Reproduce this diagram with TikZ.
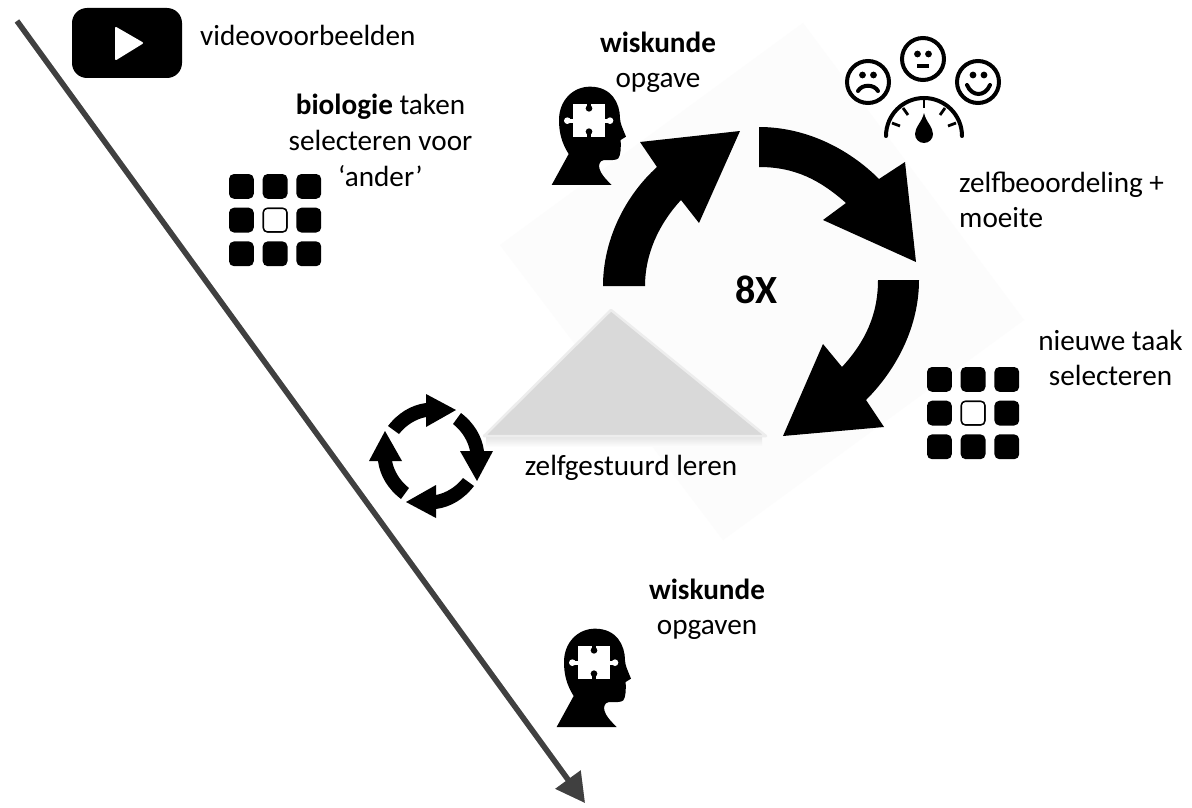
\documentclass[tikz,border=0pt]{standalone}
\usepackage{fontspec}
\setmainfont{Carlito}
\usetikzlibrary{arrows.meta}
\definecolor{tline}{HTML}{404040}
\definecolor{tshadow}{HTML}{C4C4C4}
\definecolor{faint}{HTML}{FCFCFC}
\definecolor{tri}{HTML}{D9D9D9}
\definecolor{triedge}{HTML}{EDEDED}
\tikzset{
  label/.style={font=\fontsize{29.2}{35}\selectfont,align=center,inner sep=0pt,text=black},
  bigtext/.style={font=\fontsize{40}{44}\selectfont\bfseries,inner sep=0pt},
  bigarrow/.style={fill=black,draw=none},
  faceline/.style={draw=black,line width=4pt,line cap=round},
  pics/taskgrid/.style={code={
    \foreach \i in {0,1,2}{\foreach \j in {0,1,2}{
      \fill[black,rounded corners=5pt] (\i*33.7,\j*33.7) rectangle ++(24.8,24.8);
    }}
    \filldraw[fill=white,draw=black,line width=1.5pt,rounded corners=4pt] (34.3,34.3) rectangle ++(23.6,23.6);
  }},
  pics/headicon/.style={code={
    \begin{scope}[scale=0.33333]
    \fill[black] (35,315) -- (86,222) .. controls (66,190) and (57,160) .. (57,120)
      .. controls (57,60) and (100,20) .. (150,20)
      .. controls (215,20) and (240,70) .. (240,115)
      .. controls (240,130) and (250,150) .. (258,170)
      -- (242,180) .. controls (243,205) and (242,225) .. (235,235)
      .. controls (228,242) and (210,240) .. (192,240)
      .. controls (178,242) and (176,255) .. (178,265)
      .. controls (182,282) and (198,298) .. (215,315) -- cycle;
    \fill[white] (100,72) rectangle (195,170);
    \fill[white] (82,122) circle (10);
    \fill[white] (210,122) circle (10);
    \fill[white] (82,116) rectangle (105,128);
    \fill[white] (190,116) rectangle (210,128);
    \fill[black] (147,85) circle (10);
    \fill[black] (147,155) circle (10);
    \fill[black] (141,70) rectangle (153,85);
    \fill[black] (141,155) rectangle (153,172);
    \end{scope}
  }},
  pics/cyclearrow/.style={code={
    \fill[black] (-43,-30) .. controls (-33,-43) and (-20,-51) .. (-5,-53)
      -- (-5,-62) -- (25,-46) -- (-5,-29) -- (-5,-39)
      .. controls (-15,-37) and (-25,-31) .. (-32,-22) -- cycle;
  }},
}
\begin{document}
\begin{tikzpicture}[x=1pt,y=-1pt]
\useasboundingbox (0,0) rectangle (1192,808);
\fill[white] (0,0) rectangle (1192,808);

% faint diamond backdrop
\fill[faint] (803,23) -- (1024,320) -- (723,540) -- (500,245) -- cycle;

% grey triangle with its soft shadow
\shade[top color=black!10,bottom color=faint,draw=none] (486,437) rectangle (762,446);
\filldraw[fill=tri,draw=triedge,line width=2.5pt,line join=round] (611,310) -- (766,436) -- (484,436) -- cycle;

% timeline arrow
\coordinate (tlstart) at (17,21);
\coordinate (tlend) at (585,803);
\draw[tshadow,line width=5.5pt,-{Triangle[length=29pt,width=30pt]},shift={(-2,2.5)}] (tlstart) -- (tlend);
\draw[tline,line width=5.5pt,-{Triangle[length=29pt,width=30pt]}] (tlstart) -- (tlend);

% video icon
\fill[black,rounded corners=15pt] (72,8) rectangle (182,78);
\filldraw[fill=white,draw=white,line width=2pt,line join=round] (116,28) -- (142,43) -- (116,59) -- cycle;
\node[label,anchor=base west] (video) at (200,46) {videovoorbeelden};

% task grids
\pic at (229,174) {taskgrid};
\pic at (927,367) {taskgrid};

% heads
\pic at (540,80) {headicon};
\pic at (545,622) {headicon};

% big cycle arrows
\fill[bigarrow] (603,286) .. controls (603,240) and (625,196) .. (657,167)
  -- (640,142) -- (740,131) -- (699,223) -- (681,200)
  .. controls (658,225) and (645,255) .. (645,286) -- cycle;
\fill[bigarrow] (759,127) .. controls (805,127) and (848,148) .. (879,179)
  -- (905,162) -- (916,262) -- (823,220) -- (846,203)
  .. controls (820,180) and (795,167) .. (759,167) -- cycle;
\fill[bigarrow] (919,280) .. controls (919,325) and (898,368) .. (866,400)
  -- (884,427) -- (783,436) -- (823,344) -- (842,367)
  .. controls (865,342) and (878,315) .. (878,280) -- cycle;

% small cycle icon
\begin{scope}[shift={(431,456)}]
  \foreach \a in {0,90,180,270}{\pic[rotate=\a] {cyclearrow};}
\end{scope}

% faces
\draw[faceline] (868,82) circle (21);
\fill (862.5,75) circle (3.4); \fill (873.5,75) circle (3.4);
\draw[faceline] (858,91) .. controls (862,84) and (874,84) .. (878,91);
\draw[faceline] (923,59) circle (21);
\fill (917.5,54) circle (3.4); \fill (928.5,54) circle (3.4);
\fill (917,64) rectangle (929,68);
\draw[faceline] (978,82) circle (21);
\fill (973,75) circle (3.4); \fill (984,75) circle (3.4);
\draw[faceline] (967,85) .. controls (972,97) and (985,97) .. (990,85);

% gauge
\draw[faceline] (886,136) arc[start angle=180,end angle=360,radius=38];
\draw[black,line width=2.8pt] (924,97) -- (924,108);
\draw[black,line width=2.8pt] (903,108) -- (908,115);
\draw[black,line width=2.8pt] (945,108) -- (940,115);
\draw[black,line width=2.8pt] (892,123) -- (900,126);
\draw[black,line width=2.8pt] (956,123) -- (948,126);
\fill[black] (924,113) .. controls (926,122) and (933,127) .. (933,134)
  arc[start angle=0,delta angle=180,radius=9] .. controls (915,127) and (922,122) .. (924,113) -- cycle;

% texts
\node[label] (wisk1) at (658,62.5) {\textbf{wiskunde}\\opgave};
\node[label] (bio) at (380.5,140.5) {\textbf{biologie} taken\\[1pt]selecteren voor\\[1pt]‘ander’};
\node[label,align=left,anchor=west] (self) at (959,200) {zelfbeoordeling +\\moeite};
\node[bigtext] (eight) at (756.5,290) {8X};
\node[label] (new) at (1110.5,357.5) {nieuwe taak\\selecteren};
\node[label,anchor=base] (zelf) at (631,475) {zelfgestuurd leren};
\node[label] (wisk2) at (707,609) {\textbf{wiskunde}\\opgaven};
\end{tikzpicture}
\end{document}
